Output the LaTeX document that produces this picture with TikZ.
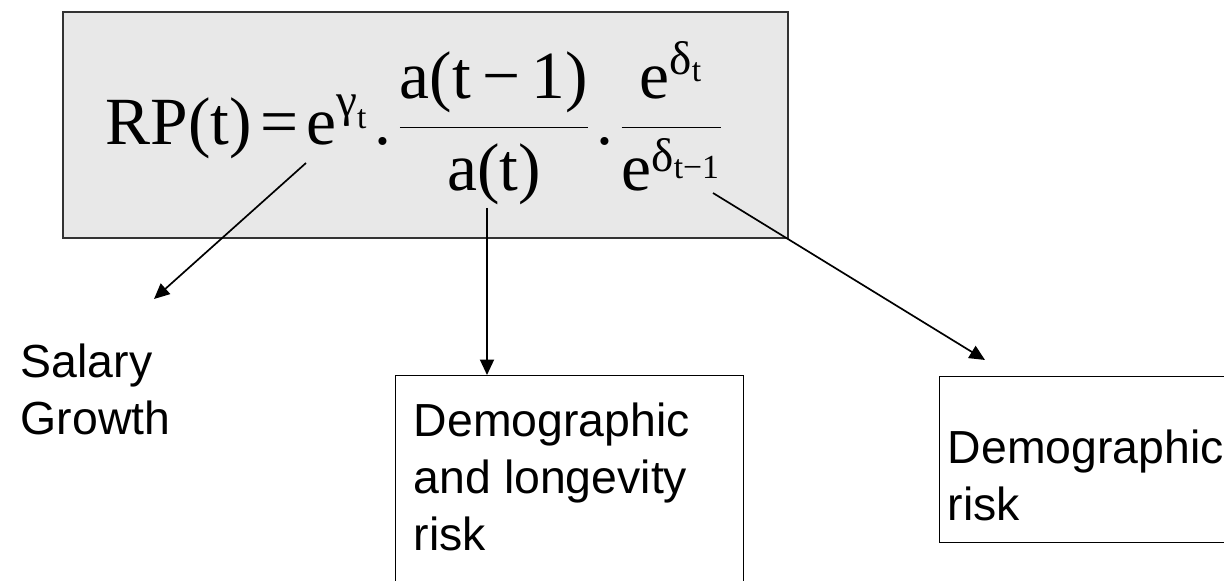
\documentclass[tikz,border=0pt]{standalone}
\usepackage{fix-cm}
\usepackage{amsmath}
\usepackage{fontspec}
\setmainfont{Liberation Serif}
\setsansfont{Liberation Sans}
\usetikzlibrary{arrows.meta}

\begin{document}
\begin{tikzpicture}[>={Triangle[length=11pt, width=10pt]}, line width=1.2pt,
  box/.style={draw, line width=1pt, inner sep=0pt, anchor=north west},
  txt/.style={font=\sffamily\fontsize{33}{40.5}\selectfont, align=left, inner sep=0pt, anchor=north west}]
  \useasboundingbox (0,0) rectangle (30.6,14.525);
  % caja de la fórmula
  \node[draw=black!80, line width=1.4pt, fill=black!9, minimum width=18.125cm, minimum height=5.65cm] (rpbox) at (10.6375,11.4) {};
  \node[font=\fontsize{48}{57}\selectfont, inner sep=0pt] (rp) at (10.35,11.45)
    {$\displaystyle\text{RP(t)}\hspace{0.12em}\text{=}\hspace{0.12em}\text{e}^{\text{γ}_{\text{t}}}\hspace{0.1em}\text{.}\hspace{0.1em}\frac{\text{a(t\,−\,1)}}{\text{a(t)}}\hspace{0.1em}\text{.}\hspace{0.1em}\frac{\text{e}^{\text{δ}_{\text{t}}}}{\text{e}^{\text{δ}_{\text{t−1}}}}$};
  % puntos de salida
  \coordinate (gam) at (7.65,10.45);
  \coordinate (den) at (12.175,9.325);
  \coordinate (del) at (17.825,9.7);
  % riesgos
  \node[txt] (salary) at (0.5,5.95) {Salary\\Growth};
  \node[box, minimum width=8.7cm, minimum height=6cm] (demo) at (9.875,5.15) {};
  \node[txt] (demotxt) at (10.325,4.475) {Demographic\\and longevity\\risk};
  \node[box, minimum width=10cm, minimum height=4.15cm] (risk) at (23.475,5.125) {};
  \node[txt] (risktxt) at (23.675,3.8) {Demographic\\risk};
  % flechas
  \coordinate (t1) at (3.85,7.05);
  \coordinate (t3) at (24.625,5.525);
  \draw[->] (gam) -- (t1);
  \draw[->] (den) -- (den |- demo.north);
  \draw[->] (del) -- (t3);
\end{tikzpicture}
\end{document}
